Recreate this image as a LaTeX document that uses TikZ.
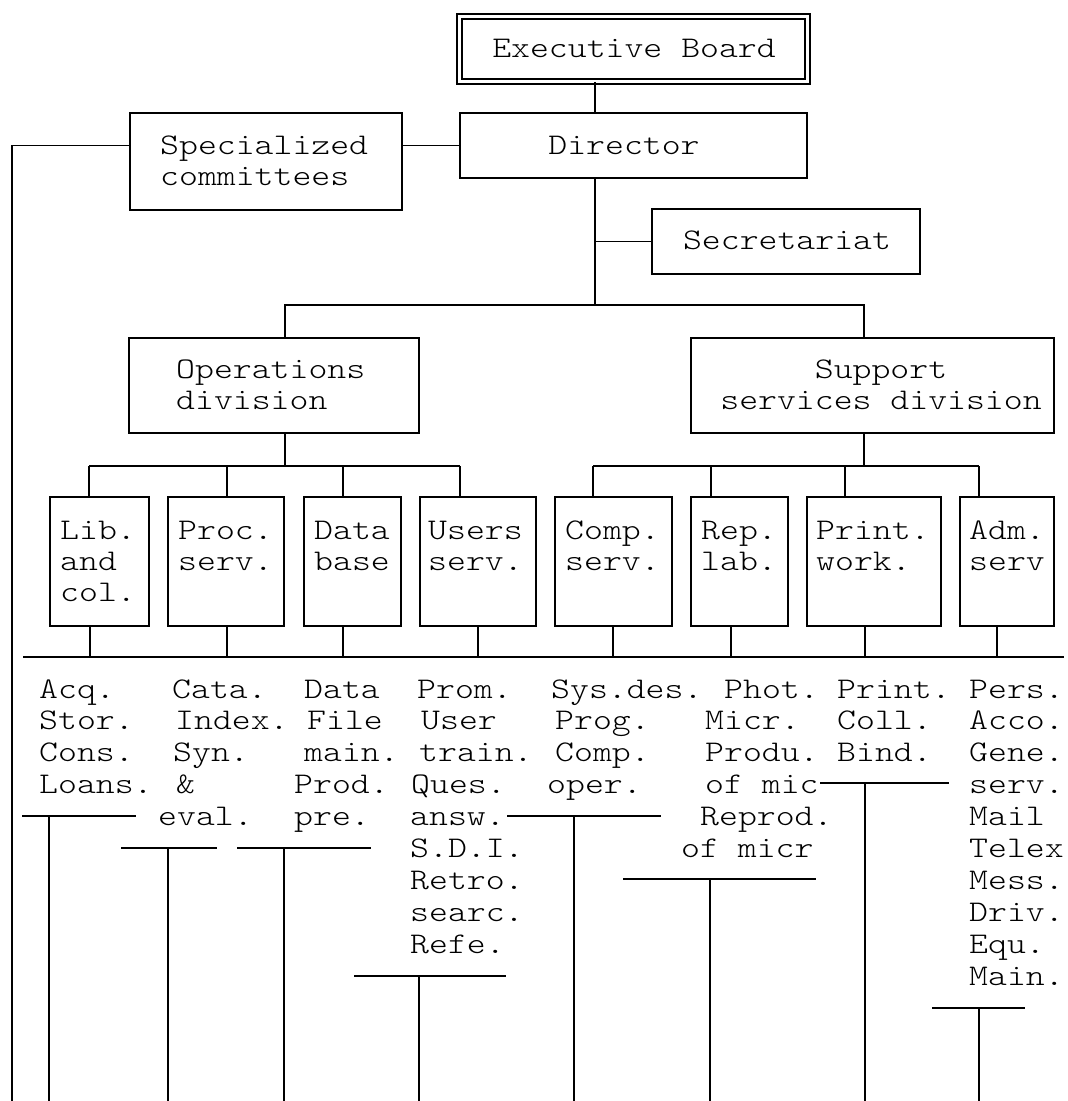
\documentclass[tikz,border=0pt]{standalone}
\usepackage{fontspec}
\setmonofont{lmmonolt10-regular.otf}[FakeStretch=1.2]
\tikzset{
  lbl/.style={inner sep=0pt, anchor=base west, font=\ttfamily\fontsize{30}{31.5}\selectfont},
  lblc/.style={inner sep=0pt, anchor=base, font=\ttfamily\fontsize{30}{31.5}\selectfont},
  boxlbl/.style={inner sep=0pt, anchor=base west, font=\ttfamily\fontsize{30}{31}\selectfont},
  unitlbl/.style={inner sep=0pt, anchor=base west, font=\ttfamily\fontsize{30}{31.9}\selectfont},
  box/.style={draw, line width=1.5pt, inner sep=0pt},
  ln/.style={line width=1.2pt},
}
\newcommand{\mlines}[1]{\begin{tabular}[t]{@{}l@{}}#1\end{tabular}}
\newcommand{\clines}[1]{\begin{tabular}[t]{@{}c@{}}#1\end{tabular}}
\begin{document}
\begin{tikzpicture}[x=1pt,y=-1pt]
\useasboundingbox[fill=white] (0,0) rectangle (1068,1101);

% ---------- upper boxes ----------
\node[box, double, double distance=3.5pt, line width=1.3pt, minimum width=348pt, minimum height=65pt] (exec) at (633.5,49) {};
\node[box, minimum width=347pt, minimum height=65pt] (dir) at (633.5,145.5) {};
\node[box, minimum width=272pt, minimum height=97pt] (spec) at (266,161.5) {};
\node[box, minimum width=268pt, minimum height=65pt] (sec) at (786,241.5) {};
\node[box, minimum width=290pt, minimum height=95pt] (ops) at (274,385.5) {};
\node[box, minimum width=363pt, minimum height=95pt] (sup) at (872.5,385.5) {};

\node[lblc] (exect) at (634,57) {Executive Board};
\node[lblc] (dirt) at (624,154) {Director};
\node[lblc] (sect) at (787,249) {Secretariat};
\node[lbl] (spect) at (160,154) {\mlines{Specialized\\committees}};
\node[lbl] (opst) at (176,378) {\mlines{Operations\\division}};
\node[lblc] (supt) at (881,378) {\clines{Support\\services division}};

% ---------- unit boxes ----------
\foreach \n/\cx/\w in {lib/99.5/99, proc/226/116, data/352.5/97, users/478/116,
                       comp/613.5/117, rep/739.5/97, print/874/134, adm/1007/94}
  \node[box, minimum width=\w pt, minimum height=129pt] (\n) at (\cx,561.5) {};

\node[boxlbl] (libt)   at (60,539)  {\mlines{Lib.\\and\\col.}};
\node[boxlbl] (proct)  at (178,539) {\mlines{Proc.\\serv.}};
\node[boxlbl] (datat)  at (314,539) {\mlines{Data\\base}};
\node[boxlbl] (userst) at (428,539) {\mlines{Users\\serv.}};
\node[boxlbl] (compt)  at (565,539) {\mlines{Comp.\\serv.}};
\node[boxlbl] (rept)   at (701,539) {\mlines{Rep.\\lab.}};
\node[boxlbl] (printt) at (816,539) {\mlines{Print.\\work.}};
\node[boxlbl] (admt)   at (969,539) {\mlines{Adm.\\serv}};

% ---------- tasks ----------
\node[unitlbl] (c1) at (39,698)  {\mlines{Acq.\\Stor.\\Cons.\\Loans.}};
\node[unitlbl] (c2) at (172,698) {\mlines{Cata.\\\hspace*{3pt}Index.\\\hspace*{1pt}Syn.\\\hspace*{4pt}\&\\\hspace*{-14pt}eval.}};
\node[unitlbl] (c3) at (304,698) {\mlines{Data\\\hspace*{3pt}File\\main.\\\hspace*{-10pt}Prod.\\\hspace*{-10pt}pre.}};
\node[unitlbl] (c4) at (417,698) {\mlines{Prom.\\\hspace*{4pt}User\\\hspace*{2pt}train.\\\hspace*{-6pt}Ques.\\\hspace*{-7pt}answ.\\\hspace*{-7pt}S.D.I.\\\hspace*{-7pt}Retro.\\\hspace*{-7pt}searc.\\\hspace*{-7pt}Refe.}};
\node[unitlbl] (c5) at (551,698) {\mlines{Sys.des.\\\hspace*{4pt}Prog.\\\hspace*{4pt}Comp.\\\hspace*{-4pt}oper.}};
\node[unitlbl] (c6) at (705,698) {\mlines{\hspace*{19pt}Phot.\\Micr.\\Produ.\\of mic\\\hspace*{-5pt}Reprod.\\\hspace*{-24pt}of micr}};
\node[unitlbl] (c7) at (837,698) {\mlines{Print.\\Coll.\\Bind.}};
\node[unitlbl] (c8) at (969,698) {\mlines{Pers.\\Acco.\\Gene.\\serv.\\Mail\\Telex\\Mess.\\Driv.\\Equ.\\Main.}};

% ---------- connectors ----------
\coordinate (trunk) at (595,0);
\draw[ln] (exec.south -| trunk) -- (dir.north -| trunk);
\draw[ln] (dir.south -| trunk) -- (595,305) coordinate (br);
\draw[ln] (sec.west) -- (sec.west -| br);
\draw[ln] (dir.west) -- (dir.west -| spec.east);
\draw[ln] (spec.west |- dir.west) -| (12,1101);
\draw[ln] (ops.north -| 285,0) |- (br) -| (sup.north -| 864,0);
\draw[ln] (ops.south -| 285,0) -- (285,466);
\draw[ln] (sup.south -| 864,0) -- (864,466);
\draw[ln] (89,466) -- (460,466);
\draw[ln] (593,466) -- (979,466);
\foreach \x/\n in {89/lib,227/proc,343/data,460/users,593/comp,711/rep,845/print,979/adm}
  \draw[ln] (\x,466) -- (\n.north -| \x,0);
\foreach \x/\n in {90/lib,227/proc,343/data,478/users,613/comp,731/rep,865/print,997/adm}
  \draw[ln] (\n.south -| \x,0) -- (\x,657);
\draw[ln] (23,657) -- (1064,657);

\foreach \a/\b/\y/\v in {22/136/816/49, 121/217/848/168, 237/371/848/284, 354/506/976/419,
                         507/661/816/574, 623/816/879/710, 820/949/783/865, 932/1025/1008/979}{
  \draw[ln] (\a,\y) -- (\b,\y);
  \draw[ln] (\v,\y) -- (\v,1101);
}
\end{tikzpicture}
\end{document}
